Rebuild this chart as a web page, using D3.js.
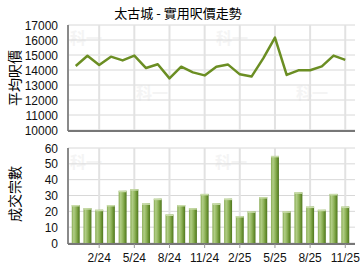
<!DOCTYPE html>
<html>
<head>
<meta charset="utf-8">
<script src="https://cdn.jsdelivr.net/npm/d3@7"></script>
<style>
  body { margin: 0; background: #fff; }
  svg text { font-family: "Liberation Sans", Arial, sans-serif; }
</style>
</head>
<body>
<svg id="chart" width="360" height="270"></svg>
<script>
const months = ["12/23", "1/24", "2/24", "3/24", "4/24", "5/24", "6/24", "7/24", "8/24", "9/24", "10/24", "11/24",
  "12/24", "1/25", "2/25", "3/25", "4/25", "5/25", "6/25", "7/25", "8/25", "9/25", "10/25", "11/25"];
const prices = [14270, 14950, 14330, 14890, 14640, 14960, 14130, 14380, 13440, 14220, 13840, 13640,
  14220, 14360, 13710, 13560, 14780, 16160, 13670, 13980, 13980, 14240, 14960, 14670];
const counts = [24, 22, 21, 24, 33, 34, 25, 28, 18, 24, 22, 31,
  25, 28, 17, 20, 29, 55, 20, 32, 23, 21, 31, 23];
const tickMonths = ["2/24", "5/24", "8/24", "11/24", "2/25", "5/25", "8/25", "11/25"];
const priceTicks = [10000, 11000, 12000, 13000, 14000, 15000, 16000, 17000];
const countTicks = [0, 10, 20, 30, 40, 50, 60];

const svg = d3.select("#chart");
const left = 68, right = 353;

const x = d3.scaleBand().domain(months).range([left, right]).padding(0.32);
const cx = (m) => x(m) + x.bandwidth() / 2;

const defs = svg.append("defs");
const grad = defs.append("linearGradient").attr("id", "barGrad")
  .attr("x1", "0%").attr("x2", "100%").attr("y1", "0%").attr("y2", "0%");
[["0%", "#87aa52"], ["25%", "#b1cd86"], ["55%", "#8fb35a"], ["80%", "#6a9232"], ["100%", "#4e7520"]]
  .forEach((s) => grad.append("stop").attr("offset", s[0]).attr("stop-color", s[1]));

// watermark
const marks = [[70, 44], [216, 44], [136, 99], [296, 99], [70, 168], [215, 168]];
svg.append("g").selectAll("text").data(marks).join("text")
  .attr("x", (d) => d[0]).attr("y", (d) => d[1])
  .attr("fill", "#f4f4f4").attr("font-size", 16).attr("font-weight", "bold")
  .style("font-family", "'Noto Sans CJK TC', sans-serif")
  .text("科一");

// title
svg.append("text").attr("x", 178).attr("y", 18).attr("text-anchor", "middle")
  .attr("font-size", 13).style("font-family", "'Noto Sans CJK TC', sans-serif")
  .text("太古城 - 實用呎價走勢");

function grid(g, y, ticks, y0, y1) {
  g.append("g").selectAll("line").data(ticks).join("line")
    .attr("x1", left).attr("x2", right + 2)
    .attr("y1", (d) => y(d)).attr("y2", (d) => y(d))
    .attr("stroke", "#d8d8d8").attr("stroke-width", 1);
  g.append("g").selectAll("line").data(tickMonths).join("line")
    .attr("x1", (d) => cx(d)).attr("x2", (d) => cx(d))
    .attr("y1", y0).attr("y2", y1)
    .attr("stroke", "#e2e2e2").attr("stroke-width", 2);
  g.append("line").attr("x1", left).attr("x2", left).attr("y1", y0).attr("y2", y1 + 1)
    .attr("stroke", "#8a8a8a").attr("stroke-width", 2);
  g.append("line").attr("x1", left).attr("x2", right + 2).attr("y1", y1 + 1).attr("y2", y1 + 1)
    .attr("stroke", "#777").attr("stroke-width", 2);
  g.append("g").selectAll("text").data(ticks).join("text")
    .attr("x", 58).attr("y", (d) => y(d) + 4.5).attr("text-anchor", "end")
    .attr("font-size", 12).attr("fill", "#111").text((d) => d);
}

// price chart
const yP = d3.scaleLinear().domain([10000, 17000]).range([130, 25]);
const priceG = svg.append("g");
grid(priceG, yP, priceTicks, 25, 130);
priceG.append("path").datum(prices)
  .attr("fill", "none").attr("stroke", "#6b8e23").attr("stroke-width", 2.5)
  .attr("stroke-linejoin", "round")
  .attr("d", d3.line().x((d, i) => cx(months[i])).y((d) => yP(d)));
svg.append("text").attr("transform", "translate(20,78) rotate(-90)")
  .attr("text-anchor", "middle").attr("font-size", 14)
  .style("font-family", "'Noto Sans CJK TC', sans-serif").text("平均呎價");

// count chart
const yC = d3.scaleLinear().domain([0, 60]).range([243, 148]);
const countG = svg.append("g");
grid(countG, yC, countTicks, 148, 243);
countG.append("g").selectAll("rect").data(counts).join("rect")
  .attr("x", (d, i) => x(months[i])).attr("width", x.bandwidth())
  .attr("y", (d) => yC(d)).attr("height", (d) => yC(0) - yC(d))
  .attr("fill", "url(#barGrad)");
countG.append("g").selectAll("rect").data(counts).join("rect")
  .attr("x", (d, i) => x(months[i])).attr("width", x.bandwidth())
  .attr("y", (d) => yC(d)).attr("height", 1.5)
  .attr("fill", "#c9dcaa");
countG.append("g").selectAll("line").data(tickMonths).join("line")
  .attr("x1", (d) => cx(d)).attr("x2", (d) => cx(d))
  .attr("y1", 244).attr("y2", 248).attr("stroke", "#999");
countG.append("g").selectAll("text").data(tickMonths).join("text")
  .attr("x", (d) => cx(d)).attr("y", 262).attr("text-anchor", "middle")
  .attr("font-size", 12).attr("fill", "#111").text((d) => d);
svg.append("text").attr("transform", "translate(20,194) rotate(-90)")
  .attr("text-anchor", "middle").attr("font-size", 14)
  .style("font-family", "'Noto Sans CJK TC', sans-serif").text("成交宗數");
</script>
</body>
</html>
